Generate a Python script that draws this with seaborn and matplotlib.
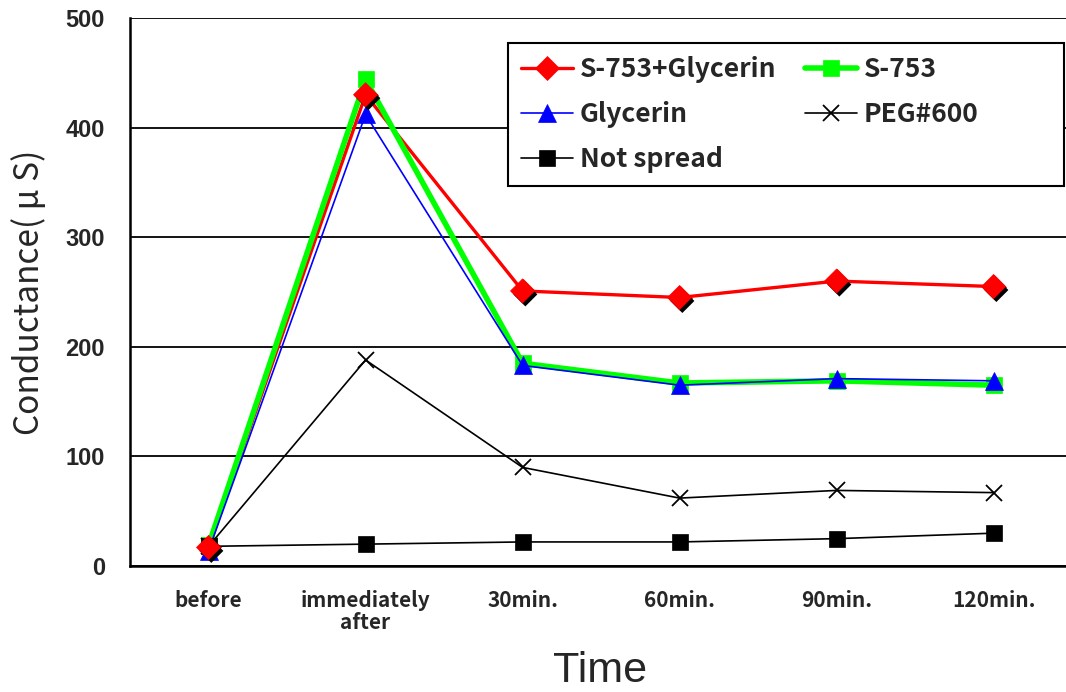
import pandas as pd
import matplotlib
matplotlib.use("Agg")
import matplotlib.pyplot as plt
import matplotlib.patheffects as pe
from matplotlib.patches import Rectangle
import seaborn as sns

# ================= DATA =================
TIMES = ["before", "immediately\nafter", "30min.", "60min.", "90min.", "120min."]
S753_GLY = [17, 430, 251, 245, 260, 255]
S753 = [19, 444, 185, 167, 169, 165]
GLYCERIN = [14, 412, 183, 165, 171, 169]
PEG600 = [18, 188, 90, 62, 69, 67]
NOT_SPREAD = [18, 20, 22, 22, 25, 30]

# name, values, colour, marker, line width, marker size
SERIES = [
    ("S-753+Glycerin", S753_GLY, "#ff0000", "D", 2.4, 12),
    ("S-753", S753, "#00ff00", "s", 4.0, 12),
    ("Glycerin", GLYCERIN, "#0000ff", "^", 1.2, 13),
    ("PEG#600", PEG600, "black", "x", 1.2, 12),
    ("Not spread", NOT_SPREAD, "black", "s", 1.2, 11),
]

JP = ["Noto Sans CJK JP", "DejaVu Sans"]

sns.set_style("white")
plt.rcParams["font.family"] = ["Liberation Sans", "DejaVu Sans"]

fig = plt.figure(figsize=(10.66, 6.92), dpi=100)
# axes run a little past the right edge of the picture, like the source crop
ax = fig.add_axes([0.122, 0.182, 0.8837, 0.792])

for name, vals, color, marker, lw, ms in SERIES:
    df = pd.DataFrame({"x": range(len(TIMES)), "y": vals})
    sns.lineplot(data=df, x="x", y="y", ax=ax, color=color, linewidth=lw,
                 marker=marker, markersize=ms, markeredgecolor=color,
                 markeredgewidth=1.3 if marker == "x" else 0.5, label=name)

# black drop shadow on the red diamonds
df_red = pd.DataFrame({"x": range(len(TIMES)), "y": S753_GLY})
sns.scatterplot(data=df_red, x="x", y="y", ax=ax, marker="D", s=150,
                color="#ff0000", edgecolor="#ff0000", linewidth=0.5,
                legend=False, zorder=5)
ax.collections[-1].set_path_effects(
    [pe.SimplePatchShadow(offset=(2, -2.5), shadow_rgbFace="black", alpha=1),
     pe.Normal()])

h, l = ax.get_legend_handles_labels()
hmap = dict(zip(l, h))
order = ["S-753+Glycerin", "Glycerin", "Not spread", "S-753", "PEG#600"]
leg = ax.legend([hmap[k] for k in order], order, ncol=2, loc="upper left",
                bbox_to_anchor=(508 / 1066, 1 - 43 / 692),
                bbox_transform=fig.transFigure,
                borderaxespad=0, frameon=False, handlelength=1.95,
                handletextpad=0.27, columnspacing=1.1, labelspacing=0.68,
                borderpad=0.5,
                prop={"family": JP, "weight": "bold", "size": 19})
leg.set_zorder(6)

# legend box reaches the right edge of the picture, as in the source
fig.canvas.draw()
bb = leg.get_window_extent().transformed(fig.transFigure.inverted())
ax.add_patch(Rectangle((bb.x0, bb.y0), 1064 / 1066 - bb.x0, bb.height,
                       transform=fig.transFigure, facecolor="white",
                       edgecolor="black", linewidth=1.5, zorder=5.5,
                       clip_on=False))

ax.set_xlim(-0.5, 5.5)
ax.set_ylim(0, 500)
ax.set_yticks([0, 100, 200, 300, 400, 500])
ax.set_xticks(range(len(TIMES)))
ax.set_xticklabels(TIMES, fontsize=15, fontweight="bold", family=JP,
                   linespacing=1.05)
ax.set_xticks([0.5, 1.5, 2.5, 3.5, 4.5], minor=True)
ax.tick_params(axis="x", which="major", length=0, pad=17)
ax.tick_params(axis="x", which="minor", direction="in", length=6, width=1.2)
ax.tick_params(axis="y", direction="in", length=7, width=1.2, labelsize=17,
               pad=18)
for t in ax.get_yticklabels():
    t.set_fontweight("bold")

ax.yaxis.grid(True, color="black", linewidth=1.3)
ax.set_axisbelow(True)
for side in ["top", "right"]:
    ax.spines[side].set_visible(False)
for side in ["left", "bottom"]:
    ax.spines[side].set_color("black")
    ax.spines[side].set_linewidth(1.8)

ax.set_xlabel("Time", fontsize=31)
ax.xaxis.set_label_coords(0.499, -0.155)
ax.set_ylabel("Conductance( μ S)", fontsize=24, family=JP)
ax.yaxis.set_label_coords(-0.107, 0.5)
ax.yaxis.label.set_verticalalignment("center")

fig.savefig("out.png", dpi=100)
